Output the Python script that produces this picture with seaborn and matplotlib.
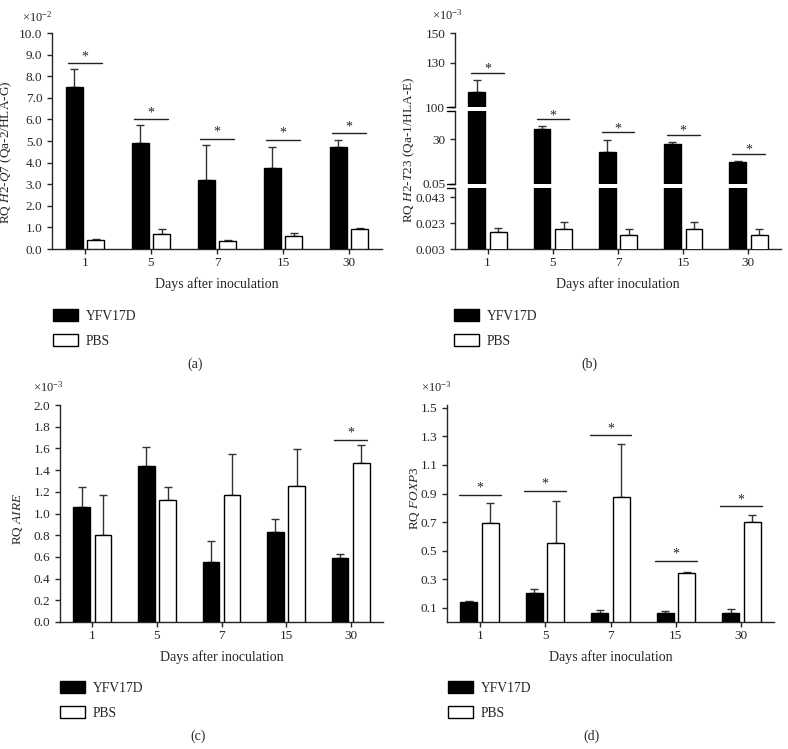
import numpy as np
import pandas as pd
import matplotlib
matplotlib.use("Agg")
import matplotlib.pyplot as plt
from matplotlib.ticker import FormatStrFormatter
import seaborn as sns

# x categories
days = ["1", "5", "7", "15", "30"]
groups = ["YFV17D", "PBS"]

# (a) H2-Q7, x10^-2
a_yfv = [7.5, 4.9, 3.2, 3.75, 4.7]
a_yfv_err = [0.85, 0.85, 1.6, 0.95, 0.35]
a_pbs = [0.42, 0.70, 0.35, 0.62, 0.92]
a_pbs_err = [0.04, 0.22, 0.08, 0.10, 0.03]
a_sig = [8.6, 6.0, 5.1, 5.05, 5.35]

# (b) H2-T23, x10^-3 (broken axis)
b_yfv = [110.0, 36.6, 21.8, 26.6, 15.0]
b_yfv_err = [8.0, 2.5, 8.0, 1.6, 0.7]
b_pbs = [0.0159, 0.0184, 0.0138, 0.0184, 0.0138]
b_pbs_err = [0.003, 0.0051, 0.0048, 0.0051, 0.0043]
b_sig = [123.0, 43.4, 34.6, 33.2, 20.2]

# (c) AIRE, x10^-3
c_yfv = [1.06, 1.44, 0.55, 0.83, 0.59]
c_yfv_err = [0.18, 0.17, 0.20, 0.12, 0.04]
c_pbs = [0.80, 1.12, 1.17, 1.25, 1.47]
c_pbs_err = [0.37, 0.12, 0.38, 0.34, 0.16]
c_sig = [None, None, None, None, 1.68]

# (d) FOXP3, x10^-3
d_yfv = [0.14, 0.20, 0.06, 0.06, 0.065]
d_yfv_err = [0.01, 0.03, 0.025, 0.015, 0.025]
d_pbs = [0.69, 0.55, 0.875, 0.345, 0.70]
d_pbs_err = [0.145, 0.30, 0.37, 0.005, 0.05]
d_sig = [0.89, 0.92, 1.31, 0.43, 0.81]

sns.set_style("ticks")
plt.rcParams["font.family"] = ["Liberation Serif", "DejaVu Serif"]
plt.rcParams["mathtext.fontset"] = "custom"
plt.rcParams["mathtext.rm"] = "Liberation Serif"
plt.rcParams["mathtext.it"] = "Liberation Serif:italic"
plt.rcParams["axes.linewidth"] = 1.0
plt.rcParams["xtick.major.width"] = 1.0
plt.rcParams["ytick.major.width"] = 1.0
plt.rcParams["xtick.major.size"] = 3.5
plt.rcParams["ytick.major.size"] = 3.5
plt.rcParams["xtick.labelsize"] = 9.5
plt.rcParams["ytick.labelsize"] = 9.5
plt.rcParams["axes.labelsize"] = 9.5

W, H = 788, 749
fig = plt.figure(figsize=(W / 100, H / 100), dpi=100)


def rect(x0, x1, ytop, ybot):
    # pixel box -> figure fraction
    return [x0 / W, 1 - ybot / H, (x1 - x0) / W, (ybot - ytop) / H]


ERR_C = "#333333"
PAL = {"YFV17D": "black", "PBS": "white"}


def draw_bars(ax, yfv, yfv_err, pbs, pbs_err, legend=False, show_pbs=True):
    df = pd.DataFrame({
        "day": days * 2,
        "value": yfv + pbs,
        "group": [groups[0]] * len(days) + [groups[1]] * len(days),
    })
    sns.barplot(data=df, x="day", y="value", hue="group", palette=PAL,
                saturation=1, edgecolor="black", linewidth=1.0, width=0.66,
                gap=0.22, errorbar=None, legend=legend, ax=ax, zorder=3)
    if not show_pbs:
        # PBS bars only live in the lowest segment of a broken axis
        for p in ax.containers[1].patches:
            p.set_visible(False)
    sets = [(ax.containers[0], yfv, yfv_err)]
    if show_pbs:
        sets.append((ax.containers[1], pbs, pbs_err))
    for cont, vals, errs in sets:
        xs = [p.get_x() + p.get_width() / 2 for p in cont.patches]
        ax.errorbar(xs, vals, yerr=[np.zeros(len(vals)), errs], fmt="none",
                    ecolor=ERR_C, elinewidth=1.0, capsize=3, capthick=1.0, zorder=2)
    ax.set_xlim(-0.5, 4.5)


def draw_sig(ax, sig, hw, dy):
    for i, s in enumerate(sig):
        if s is None:
            continue
        ax.plot([i - hw, i + hw], [s, s], color="#222", lw=1.0, zorder=4)
        ax.text(i, s + dy, "*", ha="center", va="center", fontsize=10, zorder=4)


def style(ax):
    sns.despine(ax=ax)
    ax.set_xlabel("Days after inoculation", labelpad=6, fontsize=10)
    ax.tick_params(axis="x", pad=2.5)


def legend_at(ax, x, y):
    handles, labels = ax.get_legend_handles_labels()
    if ax.get_legend() is not None:
        ax.get_legend().remove()
    fig.legend(handles, labels, loc="upper left", bbox_to_anchor=(x / W, 1 - y / H),
               frameon=False, fontsize=9.8, handlelength=1.85, handleheight=0.95,
               handletextpad=0.55, labelspacing=0.85, borderpad=0, borderaxespad=0)


# ---------- (a)
ax_a = fig.add_axes(rect(52, 382, 33, 249))
draw_bars(ax_a, a_yfv, a_yfv_err, a_pbs, a_pbs_err, legend=True)
draw_sig(ax_a, a_sig, 0.26, 0.3)
ax_a.set_ylim(0, 10)
ax_a.set_yticks(np.arange(0, 10.01, 1.0))
ax_a.yaxis.set_major_formatter(FormatStrFormatter("%.1f"))
ax_a.set_ylabel(r"RQ $\mathit{H2}$-$\mathit{Q7}$ (Qa-2/HLA-G)")
ax_a.yaxis.set_label_coords(-0.115, 0.45)
style(ax_a)
legend_at(ax_a, 53, 309)
fig.text(22 / W, 1 - 17 / H, r"$\times10^{-2}$", fontsize=9, va="center")
fig.text(195 / W, 1 - 364 / H, "(a)", fontsize=10, ha="center", va="center")

# ---------- (b) broken axis: three stacked segments
ax_b1 = fig.add_axes(rect(455, 781, 33, 107))
ax_b2 = fig.add_axes(rect(455, 781, 111, 184))
ax_b3 = fig.add_axes(rect(455, 781, 188, 249))
for k, ax in enumerate([ax_b1, ax_b2, ax_b3]):
    draw_bars(ax, b_yfv, b_yfv_err, b_pbs, b_pbs_err, legend=(k == 2),
              show_pbs=(k == 2))
    sns.despine(ax=ax, bottom=(k < 2))
    ax.set_ylabel("")
    ax.set_xlabel("")
    if k < 2:
        ax.tick_params(axis="x", bottom=False, labelbottom=False)
ax_b1.set_ylim(100, 150)
ax_b1.set_yticks([100, 130, 150])
ax_b2.set_ylim(0.05, 49)
ax_b2.set_yticks([0.05, 30])
ax_b2.yaxis.set_major_formatter(FormatStrFormatter("%g"))
ax_b3.set_ylim(0.003, 0.05)
ax_b3.set_yticks([0.003, 0.023, 0.043])
ax_b3.yaxis.set_major_formatter(FormatStrFormatter("%.3f"))
draw_sig(ax_b1, b_sig[:1] + [None] * 4, 0.25, 2.5)
draw_sig(ax_b2, [None] + b_sig[1:], 0.25, 2.5)
# break marks on the left spine
for ax, ends in [(ax_b1, [0]), (ax_b2, [0, 1]), (ax_b3, [1])]:
    for e in ends:
        ax.plot([-0.025, 0.0], [e, e], transform=ax.transAxes, color="black",
                lw=1.0, clip_on=False)
style(ax_b3)
legend_at(ax_b3, 454, 309)
fig.text(409 / W, 1 - 150 / H, r"RQ $\mathit{H2}$-$\mathit{T23}$ (Qa-1/HLA-E)",
         rotation=90, ha="center", va="center", fontsize=9.5)
fig.text(432 / W, 1 - 15 / H, r"$\times10^{-3}$", fontsize=9, va="center")
fig.text(589 / W, 1 - 364 / H, "(b)", fontsize=10, ha="center", va="center")

# ---------- (c)
ax_c = fig.add_axes(rect(60, 383, 405, 622))
draw_bars(ax_c, c_yfv, c_yfv_err, c_pbs, c_pbs_err, legend=True)
draw_sig(ax_c, c_sig, 0.26, 0.06)
ax_c.set_ylim(0, 2.0)
ax_c.set_yticks(np.arange(0, 2.01, 0.2))
ax_c.yaxis.set_major_formatter(FormatStrFormatter("%.1f"))
ax_c.set_ylabel(r"RQ $\mathit{AIRE}$")
ax_c.yaxis.set_label_coords(-0.108, 0.475)
style(ax_c)
legend_at(ax_c, 60, 681)
fig.text(33 / W, 1 - 387 / H, r"$\times10^{-3}$", fontsize=9, va="center")
fig.text(198 / W, 1 - 736 / H, "(c)", fontsize=10, ha="center", va="center")

# ---------- (d)
ax_d = fig.add_axes(rect(447, 774, 405, 622))
draw_bars(ax_d, d_yfv, d_yfv_err, d_pbs, d_pbs_err, legend=True)
draw_sig(ax_d, d_sig, 0.32, 0.045)
ax_d.set_ylim(0, 1.52)
ax_d.set_yticks(np.arange(0.1, 1.51, 0.2))
ax_d.yaxis.set_major_formatter(FormatStrFormatter("%.1f"))
ax_d.set_ylabel(r"RQ $\mathit{FOXP3}$")
ax_d.yaxis.set_label_coords(-0.076, 0.57)
style(ax_d)
legend_at(ax_d, 448, 681)
fig.text(421 / W, 1 - 387 / H, r"$\times10^{-3}$", fontsize=9, va="center")
fig.text(591 / W, 1 - 736 / H, "(d)", fontsize=10, ha="center", va="center")

fig.savefig("out.png", dpi=100)
